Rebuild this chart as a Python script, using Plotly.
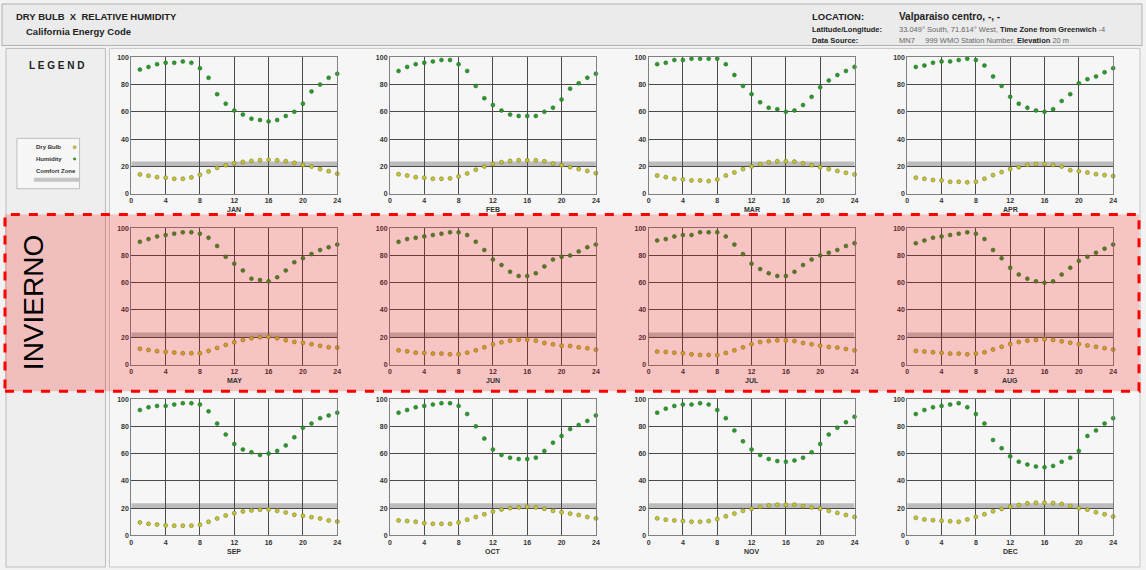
import plotly.graph_objects as go

# ---------------- data ----------------
HOURS = list(range(1, 25))
MONTHS = ["JAN", "FEB", "MAR", "APR", "MAY", "JUN", "JUL", "AUG", "SEP", "OCT", "NOV", "DEC"]

HUM_JAN = [91, 93, 95, 96, 96, 97, 96, 92, 85, 73, 66, 61, 58, 55, 54, 53, 54, 57, 60, 66, 75, 80, 85, 88]
DRY_JAN = [14.1, 13.1, 12.1, 11.7, 10.9, 10.9, 11.9, 13.8, 16.3, 18.9, 20.9, 22.3, 23.3, 24.0, 24.5, 24.8, 24.5, 23.8, 22.6, 21.1, 19.9, 18.0, 16.5, 14.6]
HUM_FEB = [90, 93, 95, 96, 97, 98, 98, 95, 90, 79, 70, 65, 61, 58, 57, 57, 57, 60, 63, 69, 77, 81, 85, 88]
DRY_FEB = [14.3, 13.3, 12.1, 11.7, 10.9, 10.9, 11.2, 12.6, 14.8, 17.5, 19.9, 21.8, 23.1, 24.0, 24.5, 24.5, 24.5, 23.8, 22.1, 20.9, 19.4, 18.0, 16.7, 15.0]
HUM_MAR = [95, 96, 98, 98, 99, 99, 99, 99, 95, 87, 79, 73, 67, 63, 62, 60, 61, 65, 71, 78, 83, 87, 90, 93]
DRY_MAR = [13.3, 12.1, 10.9, 10.4, 9.7, 9.7, 9.2, 10.4, 13.3, 15.5, 18.0, 19.9, 21.6, 23.1, 23.8, 23.8, 23.5, 22.3, 20.9, 19.4, 18.0, 16.7, 15.3, 14.1]
HUM_APR = [93, 94, 96, 97, 97, 98, 99, 98, 94, 86, 79, 71, 66, 63, 61, 60, 62, 68, 73, 81, 84, 86, 89, 92]
DRY_APR = [11.7, 10.9, 10.0, 9.7, 8.7, 8.7, 8.3, 8.7, 10.9, 13.6, 15.8, 18.0, 19.4, 21.1, 21.8, 21.8, 21.1, 19.9, 17.2, 16.5, 15.5, 14.3, 13.6, 12.9]
HUM_MAY = [90, 92, 94, 95, 96, 97, 97, 96, 93, 87, 79, 74, 69, 63, 62, 61, 64, 69, 75, 78, 81, 84, 86, 88]
DRY_MAY = [11.5, 10.7, 9.8, 9.3, 8.8, 8.3, 8.3, 8.3, 10.0, 12.2, 14.4, 16.3, 18.0, 19.3, 20.0, 20.2, 19.3, 17.8, 16.6, 15.9, 14.9, 13.7, 12.7, 12.4]
HUM_JUN = [90, 92, 93, 94, 95, 96, 97, 97, 95, 90, 84, 77, 73, 68, 65, 65, 67, 72, 77, 79, 80, 83, 86, 88]
DRY_JUN = [10.4, 9.7, 8.7, 8.5, 8.0, 8.0, 7.5, 7.5, 8.7, 10.4, 12.6, 14.8, 16.3, 17.5, 18.2, 18.2, 17.5, 15.8, 14.8, 13.8, 13.6, 12.6, 11.9, 10.9]
HUM_JUL = [91, 92, 94, 95, 95, 97, 97, 97, 94, 88, 81, 74, 70, 67, 65, 65, 68, 73, 77, 80, 82, 84, 87, 89]
DRY_JUL = [9.5, 9.2, 8.7, 8.3, 7.5, 7.0, 7.0, 7.0, 8.5, 10.4, 12.6, 15.0, 16.5, 17.2, 17.7, 17.7, 17.2, 15.8, 14.8, 13.8, 12.9, 12.4, 11.4, 10.4]
HUM_AUG = [89, 91, 93, 94, 95, 96, 97, 96, 92, 84, 78, 71, 66, 63, 61, 60, 61, 66, 71, 76, 79, 82, 85, 88]
DRY_AUG = [10.0, 9.5, 9.0, 8.5, 8.0, 8.0, 7.5, 8.0, 9.0, 11.0, 13.0, 15.0, 16.5, 17.5, 18.0, 18.5, 18.0, 17.0, 16.0, 15.0, 14.0, 13.0, 12.0, 11.0]
HUM_SEP = [92, 94, 95, 95, 96, 97, 97, 96, 91, 82, 74, 67, 63, 61, 59, 60, 62, 66, 72, 79, 82, 86, 88, 90]
DRY_SEP = [9.5, 8.5, 8.0, 7.3, 7.1, 7.1, 7.1, 7.8, 10.0, 12.4, 14.6, 16.3, 17.6, 18.3, 18.8, 19.0, 18.0, 16.8, 15.1, 14.4, 13.4, 12.4, 11.0, 10.2]
HUM_OCT = [90, 92, 94, 95, 96, 97, 97, 95, 89, 80, 71, 63, 59, 57, 56, 56, 57, 62, 68, 73, 78, 81, 84, 88]
DRY_OCT = [11.0, 10.5, 10.0, 9.0, 8.5, 8.5, 8.5, 9.5, 11.5, 13.5, 15.5, 17.5, 19.0, 20.0, 20.5, 21.0, 20.5, 19.5, 18.0, 17.0, 16.0, 15.0, 13.5, 12.5]
HUM_NOV = [90, 93, 95, 96, 96, 97, 96, 92, 86, 77, 69, 63, 59, 56, 54.5, 54, 55, 57, 61, 67, 74, 79, 83, 87]
DRY_NOV = [12.5, 11.5, 11.0, 10.5, 10.0, 10.0, 10.5, 12.0, 14.0, 16.0, 18.0, 19.5, 21.0, 22.0, 22.5, 22.5, 22.5, 21.5, 20.5, 19.5, 18.0, 16.5, 15.0, 13.5]
HUM_DEC = [89, 92, 94, 95, 96, 97, 94, 89, 82, 70, 64, 58, 54, 52, 50.5, 50, 51, 54, 57, 62, 73, 77, 82, 86]
DRY_DEC = [12.9, 11.7, 11.2, 10.7, 10.4, 10.0, 11.7, 13.6, 15.5, 17.7, 19.4, 21.1, 22.3, 23.5, 24.0, 24.0, 23.8, 23.1, 21.6, 19.9, 18.9, 17.0, 15.5, 13.8]

HUMIDITY = [HUM_JAN, HUM_FEB, HUM_MAR, HUM_APR, HUM_MAY, HUM_JUN, HUM_JUL, HUM_AUG, HUM_SEP, HUM_OCT, HUM_NOV, HUM_DEC]
DRY_BULB = [DRY_JAN, DRY_FEB, DRY_MAR, DRY_APR, DRY_MAY, DRY_JUN, DRY_JUL, DRY_AUG, DRY_SEP, DRY_OCT, DRY_NOV, DRY_DEC]

COMFORT_LOW = 20
COMFORT_HIGH = 23.5
X_TICKS = [0, 4, 8, 12, 16, 20, 24]
Y_TICKS = [0, 20, 40, 60, 80, 100]

# ---------------- layout geometry ----------------
W, H = 1146, 570
COL_LEFT = [130, 390, 650, 910]
PLOT_W = 207
ROW_TOP = [54, 227, 400]
PLOT_H = 138

HUM_COLOR = "#2f962f"
DRY_FILL = "#c4c440"
DRY_LINE = "#8c8c1e"
FONT = "Liberation Sans, Arial, sans-serif"

fig = go.Figure()
layout = dict(
    width=W, height=H, margin=dict(l=0, r=0, t=0, b=0),
    paper_bgcolor="#f2f2f2", plot_bgcolor="#ffffff",
    showlegend=False, font=dict(family=FONT, color="#222"),
)
shapes = []
annotations = []

def px2x(px):
    return px / W

def px2y(py):
    return 1 - py / H

# background blocks
shapes.append(dict(type="rect", xref="paper", yref="paper", x0=0, x1=1, y0=px2y(42), y1=1,
                   fillcolor="#ebebeb", line=dict(color="#b0b0b0", width=1), layer="below"))
shapes.append(dict(type="rect", xref="paper", yref="paper", x0=px2x(4), x1=px2x(104), y0=0, y1=px2y(45),
                   fillcolor="#eeeeee", line=dict(color="#bdbdbd", width=1), layer="below"))
shapes.append(dict(type="rect", xref="paper", yref="paper", x0=px2x(108), x1=px2x(1144), y0=0, y1=px2y(45),
                   fillcolor="#f6f6f6", line=dict(color="#c8c8c8", width=1), layer="below"))

for i, month in enumerate(MONTHS):
    r, c = divmod(i, 4)
    n = i + 1
    sx = "" if n == 1 else str(n)
    x0 = COL_LEFT[c]
    y0 = ROW_TOP[r]
    axis_common = dict(showline=True, mirror=True, linecolor="#808080", linewidth=1,
                       showgrid=True, gridcolor="#4a4a4a", gridwidth=1, zeroline=False,
                       ticks="", tickfont=dict(size=7, color="#333", family=FONT))
    layout["xaxis" + sx] = dict(axis_common, domain=[px2x(x0), px2x(x0 + PLOT_W)], range=[0, 24],
                                 tickvals=X_TICKS, ticktext=["<b>%d</b>" % t for t in X_TICKS], anchor="y" + sx)
    layout["yaxis" + sx] = dict(axis_common, domain=[px2y(y0 + PLOT_H), px2y(y0)], range=[0, 100],
                                 tickvals=Y_TICKS, ticktext=["<b>%d</b>" % t for t in Y_TICKS], anchor="x" + sx)
    # comfort zone band
    shapes.append(dict(type="rect", xref="x" + sx, yref="y" + sx, x0=0, x1=24,
                       y0=COMFORT_LOW, y1=COMFORT_HIGH, fillcolor="rgba(150,150,150,0.6)",
                       line=dict(width=0), layer="below"))
    fig.add_trace(go.Scatter(x=HOURS, y=HUMIDITY[i], mode="markers", xaxis="x" + sx, yaxis="y" + sx,
                             marker=dict(size=4, color=HUM_COLOR, line=dict(width=0.5, color="#1f6f1f")),
                             cliponaxis=False, name="Humidity"))
    fig.add_trace(go.Scatter(x=HOURS, y=DRY_BULB[i], mode="markers", xaxis="x" + sx, yaxis="y" + sx,
                             marker=dict(size=4, color=DRY_FILL, line=dict(width=0.7, color=DRY_LINE)),
                             cliponaxis=False, name="Dry Bulb"))
    annotations.append(dict(xref="paper", yref="paper", x=px2x(x0 + PLOT_W / 2), y=px2y(y0 + PLOT_H + 16),
                            text="<b>" + month + "</b>", showarrow=False, font=dict(size=7, color="#333"),
                            xanchor="center", yanchor="middle"))

# header text
hdr = [
    dict(x=px2x(12), y=px2y(13), text="<b>DRY BULB  X  RELATIVE HUMIDITY</b>", font=dict(size=9.5, color="#222")),
    dict(x=px2x(22), y=px2y(28), text="<b>California Energy Code</b>", font=dict(size=9.5, color="#222")),
    dict(x=px2x(812), y=px2y(13), text="<b>LOCATION:</b>", font=dict(size=9.5, color="#222")),
    dict(x=px2x(900), y=px2y(13), text="<b>Valparaiso centro, -, -</b>", font=dict(size=10, color="#222")),
    dict(x=px2x(812), y=px2y(26), text="<b>Latitude/Longitude:</b>", font=dict(size=7.5, color="#222")),
    dict(x=px2x(900), y=px2y(26),
         text="<span style='color:#666'>33.049° South, 71.614° West, </span><b>Time Zone from Greenwich</b><span style='color:#666'> -4</span>",
         font=dict(size=7.5, color="#222")),
    dict(x=px2x(812), y=px2y(37), text="<b>Data Source:</b>", font=dict(size=7.5, color="#222")),
    dict(x=px2x(900), y=px2y(37),
         text="<span style='color:#666'>MN7     999 WMO Station Number, </span><b>Elevation</b><span style='color:#666'> 20 m</span>",
         font=dict(size=7.5, color="#222")),
    dict(x=px2x(55), y=px2y(62), text="<b>L E G E N D</b>", font=dict(size=10, color="#222"), xanchor="center"),
]
for a in hdr:
    a.update(xref="paper", yref="paper", showarrow=False, yanchor="middle")
    a.setdefault("xanchor", "left")
annotations += hdr

# legend box
shapes.append(dict(type="rect", xref="paper", yref="paper", x0=px2x(15), x1=px2x(78), y0=px2y(187), y1=px2y(136),
                   fillcolor="#f7f7f7", line=dict(color="#bdbdbd", width=1), layer="below"))
for label, yy in [("Dry Bulb", 145), ("Humidity", 157), ("Comfort Zone", 169)]:
    annotations.append(dict(xref="paper", yref="paper", x=px2x(32), y=px2y(yy), text="<b>" + label + "</b>",
                            showarrow=False, xanchor="left", yanchor="middle", font=dict(size=6, color="#333")))
shapes.append(dict(type="circle", xref="paper", yref="paper", x0=px2x(71.5), x1=px2x(74.5), y0=px2y(146.5), y1=px2y(143.5),
                   fillcolor=DRY_FILL, line=dict(color=DRY_LINE, width=0.5), layer="above"))
shapes.append(dict(type="circle", xref="paper", yref="paper", x0=px2x(71.5), x1=px2x(74.5), y0=px2y(158.5), y1=px2y(155.5),
                   fillcolor=HUM_COLOR, line=dict(width=0), layer="above"))
shapes.append(dict(type="rect", xref="paper", yref="paper", x0=px2x(32), x1=px2x(78), y0=px2y(180), y1=px2y(176),
                   fillcolor="#c4c4c4", line=dict(width=0), layer="above"))

# winter highlight
shapes.append(dict(type="rect", xref="paper", yref="paper", x0=px2x(3), x1=px2x(1143), y0=px2y(392), y1=px2y(213),
                   fillcolor="rgba(255,0,0,0.2)", line=dict(width=0), layer="above"))
shapes.append(dict(type="rect", xref="paper", yref="paper", x0=px2x(3), x1=px2x(1143), y0=px2y(392), y1=px2y(213),
                   fillcolor="rgba(0,0,0,0)", line=dict(color="#ff0000", width=3, dash="dash"), layer="above"))
annotations.append(dict(xref="paper", yref="paper", x=px2x(31), y=px2y(302), text="INVIERNO", textangle=-90,
                        showarrow=False, xanchor="center", yanchor="middle",
                        font=dict(size=28, color="#000", family=FONT)))

layout["shapes"] = shapes
layout["annotations"] = annotations
fig.update_layout(**layout)
fig.write_html("out.html", config={"displayModeBar": False},
               post_script="document.body.style.margin='0';document.body.style.overflow='hidden';")
